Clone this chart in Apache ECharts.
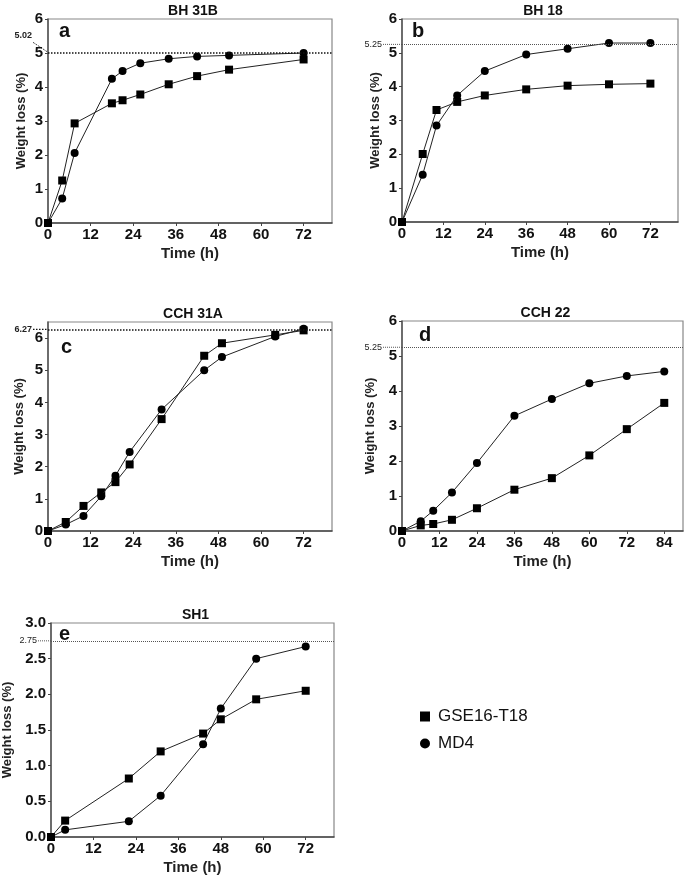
<!DOCTYPE html>
<html>
<head>
<meta charset="utf-8">
<script src="https://cdn.jsdelivr.net/npm/echarts@6/dist/echarts.min.js"></script>
<style>
  html, body { margin: 0; padding: 0; background: #fff; }
  #main { width: 685px; height: 877px; }
</style>
</head>
<body>
<div id="main"></div>
<script>
// panel titles / letters / threshold levels
const titles = ['BH 31B', 'BH 18', 'CCH 31A', 'CCH 22', 'SH1'];
const letters = ['a', 'b', 'c', 'd', 'e'];
const refs = [5.02, 5.25, 6.27, 5.25, 2.75];
const seriesNames = ['GSE16-T18', 'MD4'];

// sampling times (h)
const tA = [0, 4, 7.5, 18, 21, 26, 34, 42, 51, 72];
const tB = [0, 6, 10, 16, 24, 36, 48, 60, 72];
const tC = [0, 5, 10, 15, 19, 23, 32, 44, 49, 64, 72];
const tD = [0, 6, 10, 16, 24, 36, 48, 60, 72, 84];
const tE = [0, 4, 22, 31, 43, 48, 58, 72];

// weight loss (%) GSE16-T18
const gA = [0, 1.25, 2.93, 3.52, 3.61, 3.78, 4.08, 4.32, 4.51, 4.81];
const gB = [0, 2.01, 3.31, 3.55, 3.74, 3.92, 4.03, 4.07, 4.09];
const gC = [0, 0.28, 0.78, 1.2, 1.52, 2.07, 3.48, 5.45, 5.84, 6.1, 6.24];
const gD = [0, 0.16, 0.2, 0.32, 0.65, 1.18, 1.51, 2.16, 2.91, 3.66];
const gE = [0, 0.23, 0.82, 1.2, 1.45, 1.65, 1.93, 2.05];

// weight loss (%) MD4
const mA = [0, 0.72, 2.06, 4.24, 4.47, 4.70, 4.83, 4.90, 4.93, 5.0];
const mB = [0, 1.40, 2.85, 3.74, 4.46, 4.95, 5.12, 5.29, 5.29];
const mC = [0, 0.2, 0.47, 1.08, 1.72, 2.46, 3.78, 5.0, 5.41, 6.05, 6.29];
const mD = [0, 0.28, 0.58, 1.1, 1.94, 3.29, 3.77, 4.22, 4.43, 4.56];
const mE = [0, 0.1, 0.22, 0.58, 1.3, 1.8, 2.5, 2.67];

// tick labels
const xTicks72 = [0, 12, 24, 36, 48, 60, 72];
const xTicks84 = [0, 12, 24, 36, 48, 60, 72, 84];
const yTicks6 = [0, 1, 2, 3, 4, 5, 6];
const yTicksE = [0, 0.5, 1.0, 1.5, 2.0, 2.5, 3.0];

const times = [tA, tB, tC, tD, tE];
const gse = [gA, gB, gC, gD, gE];
const md4 = [mA, mB, mC, mD, mE];
const xTicks = [xTicks72, xTicks72, xTicks72, xTicks84, xTicks72];
const yTicks = [yTicks6, yTicks6, yTicks6, yTicks6, yTicksE];

// layout of each panel
const layout = [
  { left: 48, top: 19, width: 284, height: 204, xMax: 80, yMax: 6, yGap: 20, letter: [59, 21], refGap: 16, leader: true, bold: true },
  { left: 402, top: 19, width: 276, height: 203, xMax: 80, yMax: 6, yGap: 20, letter: [412, 21], refGap: 20 },
  { left: 48, top: 322, width: 284, height: 209, xMax: 80, yMax: 6.5, yGap: 22, letter: [61, 337], refGap: 16, bold: true },
  { left: 402, top: 321, width: 281, height: 210, xMax: 90, yMax: 6, yGap: 25, letter: [419, 325], refGap: 20 },
  { left: 51, top: 623, width: 283, height: 214, xMax: 80, yMax: 3, yGap: 37, letter: [59, 624], refGap: 14 }
];

const FONT = '"Liberation Sans", Arial, sans-serif';
const chart = echarts.init(document.getElementById('main'), null, { renderer: 'canvas' });

const grid = [], xAxis = [], yAxis = [], series = [], title = [], graphic = [];

layout.forEach((p, i) => {
  grid.push({
    left: p.left, top: p.top, width: p.width, height: p.height,
    show: true, borderColor: '#888', borderWidth: 1.2, backgroundColor: 'transparent'
  });
  xAxis.push({
    gridIndex: i, type: 'value', min: 0, max: p.xMax,
    name: 'Time (h)', nameLocation: 'middle', nameGap: 23,
    nameTextStyle: { fontFamily: FONT, fontWeight: 'bold', fontSize: 15, color: '#222' },
    axisLine: { show: true, onZero: false, lineStyle: { color: '#444', width: 1.5 } },
    axisTick: { show: true, length: 3, customValues: xTicks[i], lineStyle: { color: '#444' } },
    axisLabel: { customValues: xTicks[i], margin: 4, fontFamily: FONT, fontWeight: 'bold', fontSize: 15, color: '#111' },
    splitLine: { show: false }
  });
  yAxis.push({
    gridIndex: i, type: 'value', min: 0, max: p.yMax,
    name: 'Weight loss (%)', nameLocation: 'middle', nameGap: p.yGap,
    nameTextStyle: { fontFamily: FONT, fontWeight: 'bold', fontSize: 13, color: '#222' },
    axisLine: { show: true, onZero: false, lineStyle: { color: '#555', width: 1.5 } },
    axisTick: { show: true, length: 3, customValues: yTicks[i], lineStyle: { color: '#444' } },
    axisLabel: {
      customValues: yTicks[i], margin: 5, fontFamily: FONT, fontWeight: 'bold', fontSize: 15, color: '#111',
      formatter: i === 4 ? v => v.toFixed(1) : v => String(v)
    },
    splitLine: { show: false }
  });
  title.push({
    text: titles[i], left: p.left + p.width / 2 - 2, top: p.top - 20, textAlign: 'center',
    textStyle: { fontFamily: FONT, fontWeight: 'bold', fontSize: 14, color: '#111' }
  });
  graphic.push({
    type: 'text', left: p.letter[0], top: p.letter[1],
    style: { text: letters[i], font: 'bold 20px ' + FONT, fill: '#111' }
  });

  const strong = !!p.bold;
  const dash = strong ? { width: 1.5, color: '#111', type: [1.5, 1.5] } : { width: 1, color: '#555', type: [1, 1] };
  series.push({
    name: seriesNames[0], type: 'line', xAxisIndex: i, yAxisIndex: i,
    data: times[i].map((t, k) => [t, gse[i][k]]),
    symbol: 'rect', symbolSize: 8, itemStyle: { color: '#000' },
    lineStyle: { color: '#222', width: 1 }, z: 3, animation: false,
    markLine: {
      silent: true, symbol: 'none', label: { show: false },
      lineStyle: dash, data: [{ yAxis: refs[i] }]
    }
  });
  series.push({
    name: seriesNames[1], type: 'line', xAxisIndex: i, yAxisIndex: i,
    data: times[i].map((t, k) => [t, md4[i][k]]),
    symbol: 'circle', symbolSize: 8, itemStyle: { color: '#000' },
    lineStyle: { color: '#222', width: 1 }, z: 4, animation: false
  });
});

chart.setOption({
  animation: false,
  textStyle: { fontFamily: FONT },
  title, grid, xAxis, yAxis, series, graphic,
  legend: {
    orient: 'vertical', left: 420, top: 708, padding: 0, itemWidth: 10, itemHeight: 10, itemGap: 10,
    textStyle: { fontFamily: FONT, fontSize: 17, color: '#111', padding: [0, 0, 0, 3] },
    data: [{ name: seriesNames[0], icon: 'rect' }, { name: seriesNames[1], icon: 'circle' }]
  }
});

// threshold labels placed left of each axis, at the reference level
layout.forEach((p, i) => {
  const y = chart.convertToPixel({ gridIndex: i }, [0, refs[i]])[1];
  const strong = !!p.bold;
  const lbl = refs[i].toFixed(2);
  if (p.leader) {
    graphic.push({
      type: 'text', x: p.left - p.refGap, y: y - 17,
      style: { text: lbl, font: 'bold 9px ' + FONT, fill: '#222', align: 'right', verticalAlign: 'middle' }
    });
    graphic.push({
      type: 'line', shape: { x1: p.left - 15, y1: y - 10, x2: p.left, y2: y },
      style: { stroke: '#444', lineWidth: 1, lineDash: [2, 1] }
    });
  } else {
    graphic.push({
      type: 'text', x: p.left - p.refGap, y: y,
      style: { text: lbl, font: (strong ? 'bold ' : '') + '9px ' + FONT, fill: '#222', align: 'right', verticalAlign: 'middle' }
    });
    graphic.push({
      type: 'line', shape: { x1: p.left - p.refGap + 1, y1: y, x2: p.left, y2: y },
      style: { stroke: strong ? '#111' : '#555', lineWidth: strong ? 1.2 : 1, lineDash: strong ? [1.5, 1.5] : [1, 1] }
    });
  }
});
chart.setOption({ graphic });
</script>
</body>
</html>
